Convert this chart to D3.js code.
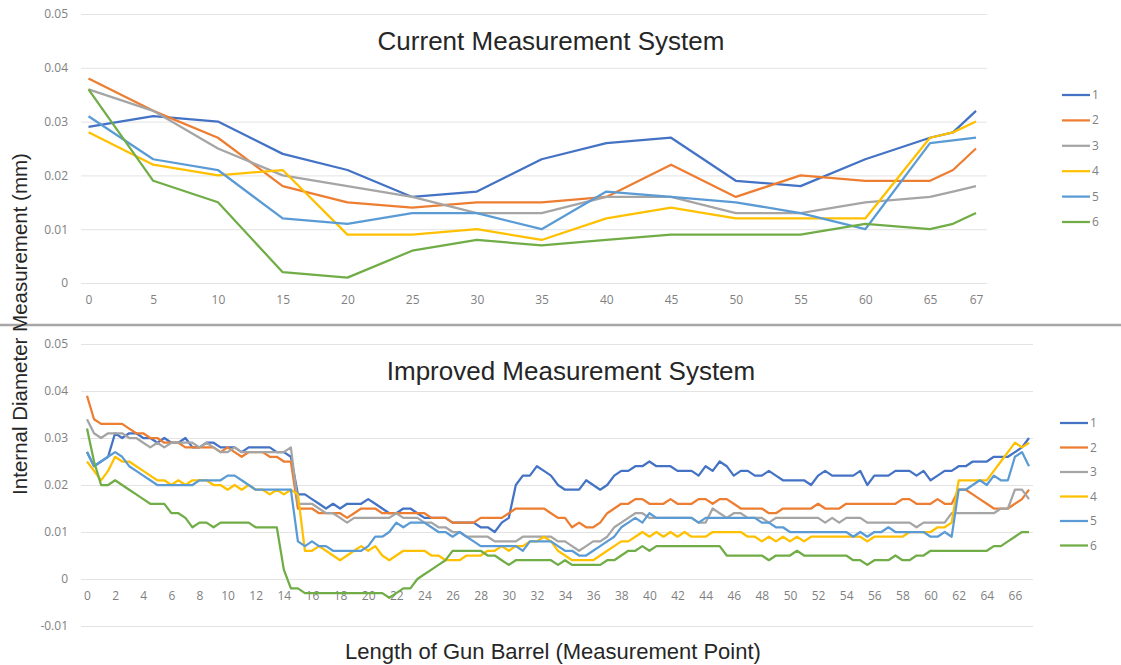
<!DOCTYPE html>
<html>
<head>
<meta charset="utf-8">
<script src="https://cdn.jsdelivr.net/npm/d3@7"></script>
<style>
body { margin: 0; background: #fff; }
svg { display: block; }
.tick text { font-family: "Open Sans", sans-serif; font-size: 12px; fill: #7f7f7f; }
.ttl { font-family: "Liberation Sans", Arial, sans-serif; fill: #262626; }
.leg { font-family: "Open Sans", sans-serif; font-size: 12px; fill: #7f7f7f; }
</style>
</head>
<body>
<svg id="chart" width="1121" height="665"></svg>
<script>
var seriesNames = ["1", "2", "3", "4", "5", "6"];
var colors = ["#4472C4", "#ED7D31", "#A5A5A5", "#FFC000", "#5B9BD5", "#70AD47"];

// ---- current measurement system ----
var topPoints = [0, 5, 10, 15, 20, 25, 30, 35, 40, 45, 50, 55, 60, 65, 66, 67];
var topTicks = [0, 5, 10, 15, 20, 25, 30, 35, 40, 45, 50, 55, 60, 65, 67];
var topYTicks = [0, 0.01, 0.02, 0.03, 0.04, 0.05];
var top1 = [.029, .031, .030, .024, .021, .016, .017, .023, .026, .027, .019, .018, .023, .027, .028, .032];
var top2 = [.038, .032, .027, .018, .015, .014, .015, .015, .016, .022, .016, .020, .019, .019, .021, .025];
var top3 = [.036, .032, .025, .020, .018, .016, .013, .013, .016, .016, .013, .013, .015, .016, .017, .018];
var top4 = [.028, .022, .020, .021, .009, .009, .010, .008, .012, .014, .012, .012, .012, .027, .028, .030];
var top5 = [.031, .023, .021, .012, .011, .013, .013, .010, .017, .016, .015, .013, .010, .026, .0265, .027];
var top6 = [.036, .019, .015, .002, .001, .006, .008, .007, .008, .009, .009, .009, .011, .010, .011, .013];

// ---- improved measurement system (every half point) ----
var bottomPoints = d3.range(0, 67.5, 0.5);
var bottomTicks = d3.range(0, 67, 2);
var bottomYTicks = [-0.01, 0, 0.01, 0.02, 0.03, 0.04, 0.05];
var bottom1 = [
  .027, .024, .025, .026, .031, .030, .031, .031, .030, .030,
  .029, .030, .029, .029, .030, .028, .028, .029, .029, .028,
  .028, .028, .027, .028, .028, .028, .028, .027, .027, .026,
  .018, .018, .017, .016, .015, .016, .015, .016, .016, .016,
  .017, .016, .015, .014, .014, .015, .015, .014, .013, .013,
  .013, .013, .012, .012, .012, .012, .011, .011, .010, .012,
  .013, .020, .022, .022, .024, .023, .022, .020, .019, .019,
  .019, .021, .020, .019, .020, .022, .023, .023, .024, .024,
  .025, .024, .024, .024, .023, .023, .023, .022, .024, .023,
  .025, .024, .022, .023, .023, .022, .022, .023, .022, .021,
  .021, .021, .021, .020, .022, .023, .022, .022, .022, .022,
  .023, .020, .022, .022, .022, .023, .023, .023, .022, .023,
  .021, .022, .023, .023, .024, .024, .025, .025, .025, .026,
  .026, .026, .027, .028, .030];
var bottom2 = [
  .039, .034, .033, .033, .033, .033, .032, .031, .031, .030,
  .030, .029, .029, .029, .028, .028, .028, .028, .028, .027,
  .028, .027, .026, .027, .027, .027, .026, .026, .025, .025,
  .015, .015, .015, .014, .014, .014, .014, .013, .014, .015,
  .015, .015, .014, .014, .014, .014, .014, .014, .014, .013,
  .013, .013, .012, .012, .012, .012, .013, .013, .013, .013,
  .014, .015, .015, .015, .015, .015, .014, .013, .013, .011,
  .012, .011, .011, .012, .014, .015, .016, .016, .017, .017,
  .016, .016, .016, .017, .016, .016, .016, .017, .017, .016,
  .017, .017, .016, .015, .015, .015, .015, .014, .014, .015,
  .015, .015, .015, .015, .016, .015, .015, .015, .016, .016,
  .016, .016, .016, .016, .016, .016, .017, .017, .016, .016,
  .016, .017, .016, .016, .019, .019, .018, .017, .016, .015,
  .015, .015, .016, .017, .019];
var bottom3 = [
  .034, .031, .030, .031, .031, .031, .030, .030, .029, .028,
  .029, .028, .029, .029, .029, .029, .028, .029, .028, .027,
  .027, .028, .027, .027, .027, .027, .027, .027, .027, .028,
  .016, .016, .016, .015, .014, .014, .013, .012, .013, .013,
  .013, .013, .013, .013, .014, .013, .013, .013, .012, .012,
  .011, .011, .010, .010, .009, .009, .009, .009, .008, .008,
  .008, .008, .009, .009, .009, .009, .009, .008, .008, .007,
  .006, .007, .008, .008, .009, .011, .012, .013, .014, .014,
  .013, .013, .013, .013, .013, .013, .013, .012, .012, .015,
  .014, .013, .014, .014, .013, .013, .013, .012, .013, .013,
  .013, .013, .013, .013, .013, .012, .013, .012, .013, .013,
  .013, .012, .012, .012, .012, .012, .012, .012, .011, .012,
  .012, .012, .012, .014, .014, .014, .014, .014, .014, .014,
  .015, .015, .019, .019, .017];
var bottom4 = [
  .025, .023, .021, .023, .026, .025, .025, .024, .023, .022,
  .021, .021, .020, .021, .020, .021, .021, .021, .020, .020,
  .019, .020, .019, .020, .019, .019, .018, .019, .018, .019,
  .018, .006, .006, .007, .006, .005, .004, .005, .006, .007,
  .006, .007, .005, .004, .005, .006, .006, .006, .006, .005,
  .005, .004, .004, .004, .005, .005, .005, .006, .006, .007,
  .006, .007, .007, .008, .008, .009, .008, .006, .005, .004,
  .004, .004, .004, .005, .006, .007, .008, .008, .009, .010,
  .009, .010, .009, .010, .009, .010, .009, .009, .009, .010,
  .010, .010, .010, .010, .009, .009, .008, .009, .008, .009,
  .008, .009, .008, .009, .009, .009, .009, .009, .009, .009,
  .009, .008, .009, .009, .009, .009, .009, .010, .010, .010,
  .010, .011, .011, .012, .021, .021, .021, .021, .021, .023,
  .025, .027, .029, .028, .029];
var bottom5 = [
  .027, .024, .025, .026, .027, .026, .024, .023, .022, .021,
  .020, .020, .020, .020, .020, .020, .021, .021, .021, .021,
  .022, .022, .021, .020, .019, .019, .019, .019, .019, .019,
  .008, .007, .008, .007, .007, .006, .006, .006, .006, .006,
  .007, .009, .009, .010, .012, .011, .012, .012, .012, .011,
  .010, .010, .009, .010, .009, .008, .007, .007, .007, .007,
  .007, .007, .006, .008, .008, .008, .008, .007, .006, .006,
  .005, .005, .006, .007, .008, .009, .011, .012, .013, .012,
  .014, .013, .013, .013, .013, .013, .013, .012, .013, .013,
  .013, .013, .013, .013, .013, .013, .012, .012, .011, .011,
  .010, .010, .010, .010, .010, .010, .010, .010, .010, .009,
  .010, .009, .010, .010, .011, .010, .010, .010, .010, .010,
  .009, .009, .010, .009, .019, .019, .020, .021, .020, .022,
  .021, .021, .026, .027, .024];
var bottom6 = [
  .032, .025, .020, .020, .021, .020, .019, .018, .017, .016,
  .016, .016, .014, .014, .013, .011, .012, .012, .011, .012,
  .012, .012, .012, .012, .011, .011, .011, .011, .002, -.002,
  -.002, -.003, -.003, -.003, -.003, -.003, -.003, -.003, -.003, -.003,
  -.003, -.003, -.003, -.004, -.003, -.002, -.002, .000, .001, .002,
  .003, .004, .006, .006, .006, .006, .006, .005, .005, .004,
  .003, .004, .004, .004, .004, .004, .004, .003, .004, .003,
  .003, .003, .003, .003, .004, .004, .005, .006, .006, .007,
  .006, .007, .007, .007, .007, .007, .007, .007, .007, .007,
  .007, .005, .005, .005, .005, .005, .005, .004, .005, .005,
  .005, .006, .005, .005, .005, .005, .005, .005, .005, .004,
  .004, .003, .004, .004, .004, .005, .004, .004, .005, .005,
  .006, .006, .006, .006, .006, .006, .006, .006, .006, .007,
  .007, .008, .009, .010, .010];

var svg = d3.select("#chart");

function fmtY(d) {
    if (d === 0) return "0";
    return d3.format(".2f")(d).replace("\u2212", "-");
}

function drawPanel(p) {
    var g = svg.append("g");

    // gridlines
    g.append("g")
        .attr("transform", "translate(" + p.left + ",0)")
        .call(d3.axisLeft(p.y).tickValues(p.yTicks).tickSize(-(p.right - p.left)).tickFormat(""))
        .call(function(a) {
            a.select(".domain").remove();
            a.selectAll("line").attr("stroke", "#e3e3e3").attr("stroke-width", 1);
        });

    // y labels
    g.append("g")
        .attr("transform", "translate(" + p.left + ",0)")
        .call(d3.axisLeft(p.y).tickValues(p.yTicks).tickSize(0).tickPadding(13).tickFormat(fmtY))
        .call(function(a) { a.select(".domain").remove(); });

    // x labels
    g.append("g")
        .attr("transform", "translate(0," + p.y(0) + ")")
        .call(d3.axisBottom(p.x).tickValues(p.xTicks).tickSize(0).tickPadding(12).tickFormat(d3.format("d")))
        .call(function(a) { a.select(".domain").remove(); });

    var line = d3.line()
        .x(function(d, i) { return p.x(p.points[i]); })
        .y(function(d) { return p.y(d); });

    p.series.forEach(function(s, i) {
        g.append("path")
            .attr("d", line(s))
            .attr("fill", "none")
            .attr("stroke", colors[i])
            .attr("stroke-width", 2.25)
            .attr("stroke-linejoin", "round");
    });

    // title
    g.append("text")
        .attr("class", "ttl")
        .attr("x", p.titleX)
        .attr("y", p.titleY)
        .attr("text-anchor", "middle")
        .attr("font-size", 26)
        .text(p.title);

    // legend
    seriesNames.forEach(function(name, i) {
        var ly = p.legY + i * p.legStep;
        g.append("line")
            .attr("x1", p.legX).attr("x2", p.legX + 28)
            .attr("y1", ly).attr("y2", ly)
            .attr("stroke", colors[i]).attr("stroke-width", 2.25);
        g.append("text")
            .attr("class", "leg")
            .attr("x", p.legX + 30)
            .attr("y", ly + 4)
            .text(name);
    });
}

drawPanel({
    points: topPoints,
    xTicks: topTicks,
    yTicks: topYTicks,
    series: [top1, top2, top3, top4, top5, top6],
    x: d3.scaleLinear().domain([0, 65, 67]).range([88.5, 930, 976]),
    y: d3.scaleLinear().domain([0, 0.05]).range([283, 14]),
    left: 81, right: 987,
    title: "Current Measurement System", titleX: 551, titleY: 50,
    legX: 1062, legY: 95, legStep: 25.4
});

drawPanel({
    points: bottomPoints,
    xTicks: bottomTicks,
    yTicks: bottomYTicks,
    series: [bottom1, bottom2, bottom3, bottom4, bottom5, bottom6],
    x: d3.scaleLinear().domain([0, 67]).range([87, 1029]),
    y: d3.scaleLinear().domain([-0.01, 0.05]).range([626, 344]),
    left: 81, right: 1033,
    title: "Improved Measurement System", titleX: 571, titleY: 380,
    legX: 1060, legY: 423, legStep: 24.5
});

// divider between the two charts
svg.append("line")
    .attr("x1", 0).attr("x2", 1121)
    .attr("y1", 325).attr("y2", 325)
    .attr("stroke", "#a6a6a6").attr("stroke-width", 2.5);

// shared axis titles
svg.append("text")
    .attr("class", "ttl")
    .attr("transform", "translate(27,324) rotate(-90)")
    .attr("text-anchor", "middle")
    .attr("font-size", 20.5)
    .text("Internal Diameter Measurement (mm)");

svg.append("text")
    .attr("class", "ttl")
    .attr("x", 553)
    .attr("y", 659)
    .attr("text-anchor", "middle")
    .attr("font-size", 22)
    .text("Length of Gun Barrel (Measurement Point)");
</script>
</body>
</html>
